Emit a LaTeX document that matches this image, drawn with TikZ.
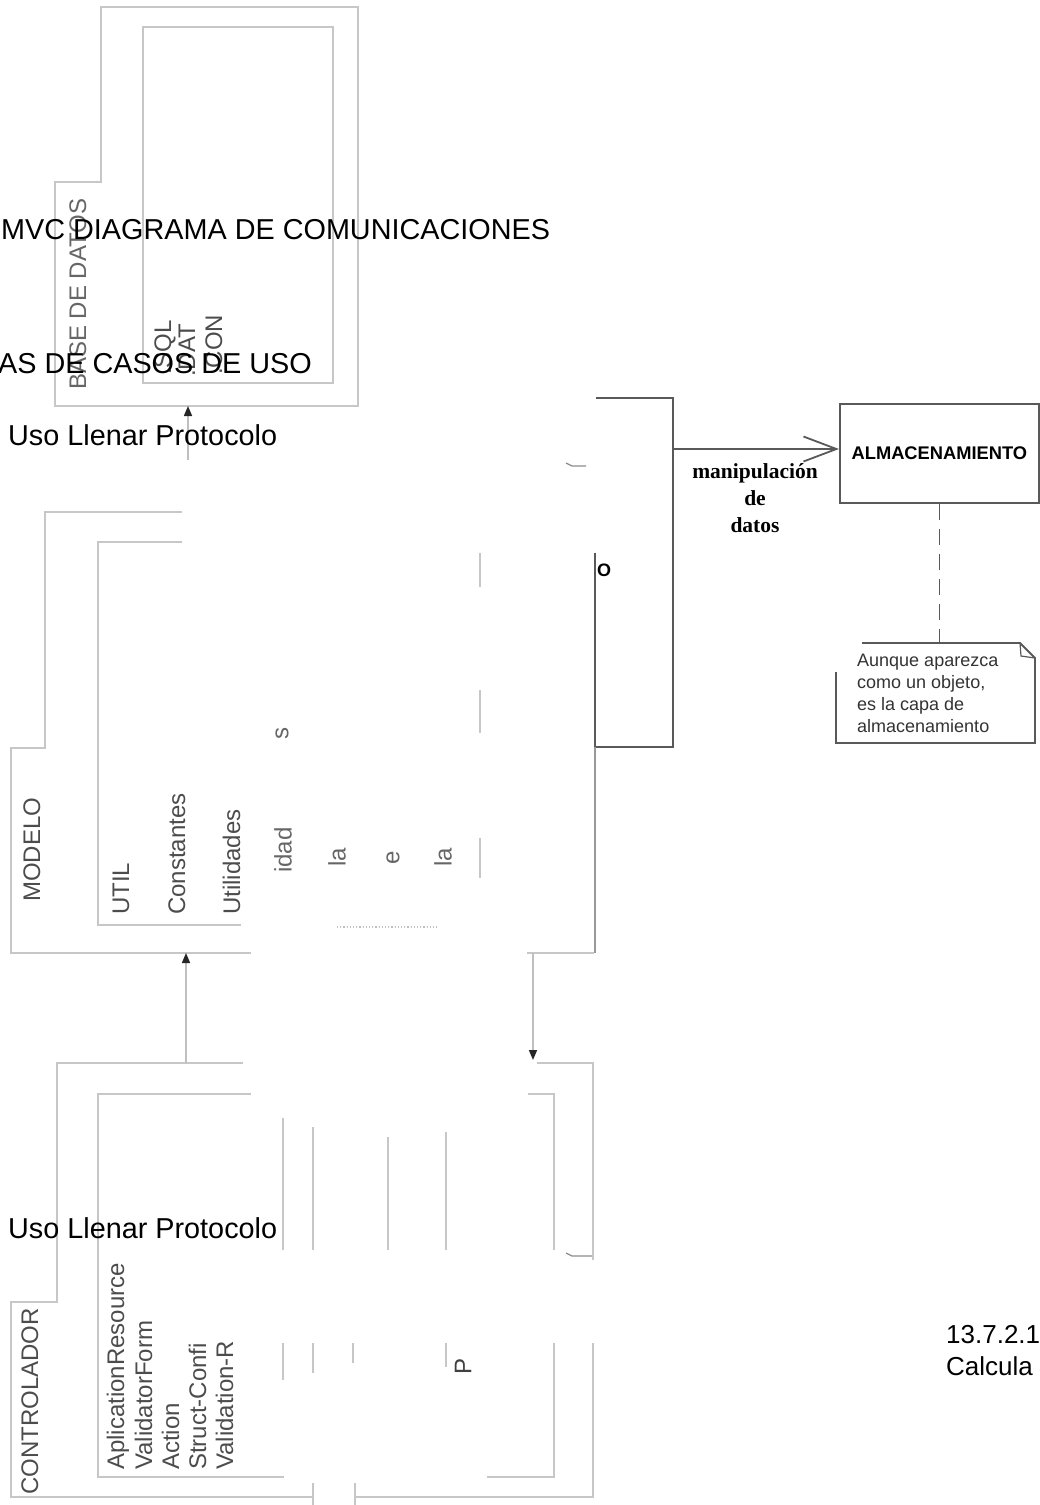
\documentclass[tikz,border=0pt]{standalone}
\usepackage{fontspec}
\setmainfont{Liberation Sans}
\newfontfamily\lblserif{Liberation Serif}
\usetikzlibrary{arrows.meta}

\begin{document}
\begin{tikzpicture}[x=1pt, y=-1pt,
    pkg/.style={draw=black!22, line width=1.6pt},
    obj/.style={draw=black!65, line width=1.8pt},
    pkgtxt/.style={rotate=90, anchor=base west, inner sep=0pt, text=black!70, font=\fontsize{24}{24}\selectfont},
    frag/.style={rotate=90, inner sep=0pt, text=black!60, font=\fontsize{24}{24}\selectfont},
    bigtxt/.style={inner sep=0pt, font=\fontsize{28.8}{30}\selectfont},
    dep/.style={draw=black!25, line width=1.5pt, -{Triangle[length=10pt, width=8pt, color=black!85]}}]
  \useasboundingbox (0,0) rectangle (1040,1505);
  \clip (0,0) rectangle (1040,1505);

  % BASE DE DATOS package
  \draw[pkg] (55,182) -- (101,182) -- (101,7) -- (358,7) -- (358,406) -- (55,406) -- cycle;
  \draw[pkg] (143,27) rectangle (333,383);
  \node[pkgtxt, text=black!60] (bdtitle) at (86,390) {BASE DE DATOS};
  \node[pkgtxt] (sql) at (171,375) {.SQL};
  \node[pkgtxt] (dat) at (195,377) {.DAT};
  \node[pkgtxt] (con) at (222,375) {.CON};

  % MODELO package, partly hidden
  \draw[pkg] (182,512) -- (45,512) -- (45,748) -- (11,748) -- (11,953) -- (251,953);
  \draw[pkg] (182,542) -- (98,542) -- (98,925) -- (241,925);
  \draw[pkg] (527,953) -- (594,953);
  \draw[draw=black!40, line width=1.5pt] (595,747) -- (595,953);
  \foreach \a/\b in {553/587, 690/733, 838/878} \draw[pkg] (480,\a) -- (480,\b);
  \draw[black!25, dotted, line width=1.2pt] (337,927) -- (437,927);
  \node[pkgtxt] (modtitle) at (40,902) {MODELO};
  \node[pkgtxt] (util) at (129,915) {UTIL};
  \node[pkgtxt] (const) at (185,915) {Constantes};
  \node[pkgtxt] (utilid) at (240,915) {Utilidades};
  \node[frag] (fs) at (282,733) {s};
  \node[frag] (fidad) at (283,850) {idad};
  \node[frag] (fla) at (337,857) {la};
  \node[frag] (fe) at (393,858) {e};
  \node[frag] (flb) at (443,857) {la};

  % object box on the right of the packages
  \draw[obj] (596,398) -- (673,398) -- (673,747) -- (596,747);
  \draw[obj] (595,553) -- (595,747);
  \node[inner sep=0pt, anchor=west, font=\bfseries\fontsize{18}{18}\selectfont] (fo) at (597,570) {O};
  \draw[black!45, line width=1.2pt] (566,463) -- (572,466) -- (586,466);
  \draw[black!45, line width=1.2pt] (566,1253) -- (572,1256) -- (594,1256);

  % CONTROLADOR package, partly hidden
  \draw[pkg] (243,1063) -- (57,1063) -- (57,1302) -- (11,1302) -- (11,1497) -- (313,1497);
  \draw[pkg] (355,1497) -- (593,1497) -- (593,1343);
  \draw[pkg] (593,1260) -- (593,1063) -- (537,1063);
  \draw[pkg] (251,1094) -- (98,1094) -- (98,1477) -- (284,1477);
  \draw[pkg] (487,1477) -- (554,1477) -- (554,1343);
  \draw[pkg] (554,1250) -- (554,1094) -- (528,1094);
  \foreach \x/\a in {283/1118, 313/1127, 388/1137, 446/1132} \draw[pkg] (\x,\a) -- (\x,1250);
  \foreach \x/\b in {283/1380, 313/1373, 353/1363, 446/1367} \draw[pkg] (\x,1343) -- (\x,\b);
  \draw[pkg] (313,1483) -- (313,1505);
  \draw[pkg] (355,1483) -- (355,1505);
  \node[pkgtxt] (ctrltitle) at (38,1495) {CONTROLADOR};
  \node[pkgtxt] (aplic) at (124,1470) {AplicationResource};
  \node[pkgtxt] (valform) at (152,1470) {ValidatorForm};
  \node[pkgtxt] (action) at (179,1470) {Action};
  \node[pkgtxt] (struct) at (206,1470) {Struct-Confi};
  \node[pkgtxt] (valid) at (233,1470) {Validation-R};
  \node[frag, text=black!75] (fp) at (463,1366) {P};

  % dependencies between packages
  \coordinate (bdbot) at (188,406);
  \coordinate (modtop) at (188,460);
  \draw[dep] (modtop) -- (bdbot);
  \coordinate (modbot) at (186,953);
  \coordinate (ctrltop) at (186,1063);
  \draw[dep] (ctrltop) -- (modbot);
  \coordinate (modbot2) at (533,953);
  \coordinate (ctrltop2) at (533,1060);
  \draw[dep] (modbot2) -- (ctrltop2);

  % storage object and note
  \node[obj, minimum width=199pt, minimum height=99pt, anchor=north west,
        font=\bfseries\fontsize{18.3}{18}\selectfont] (almac) at (839,403) {ALMACENAMIENTO};
  \coordinate (boxE) at (673,449);
  \draw[obj, -{Straight Barb[length=33pt, width=25pt, line width=1.8pt]}] (boxE) -- (boxE -| almac.west);
  \node[align=center, inner sep=0pt, font=\lblserif\bfseries\fontsize{21.5}{27}\selectfont] (lbl) at (755,498)
    {manipulación\\de\\datos};
  \coordinate (notatop) at (937,643);
  \draw[obj, dash pattern=on 16pt off 9pt] (almac.south) -- (almac.south |- notatop);
  \draw[obj] (862,643) -- (1020,643) -- (1035,658) -- (1035,743) -- (836,743) -- (836,672);
  \draw[obj, line width=1.2pt] (1020,643) -- (1021,656) -- (1035,658);
  \node[anchor=north west, align=left, inner sep=0pt, text=black!80, font=\fontsize{18}{22}\selectfont] (nota) at (857,654)
    {Aunque aparezca\\como un objeto,\\es la capa de\\almacenamiento};

  % text lying over the diagram
  \node[bigtxt, anchor=base west] (title) at (1,239) {MVC DIAGRAMA DE COMUNICACIONES};
  \node[bigtxt, anchor=base east] (casos) at (312,373) {AS DE CASOS DE USO};
  \node[bigtxt, anchor=base west] (uso1) at (8,445) {Uso Llenar Protocolo};
  \node[bigtxt, anchor=base west] (uso2) at (8,1238) {Uso Llenar Protocolo};
  \node[inner sep=0pt, anchor=base west, font=\fontsize{26}{26}\selectfont] (num) at (946,1343) {13.7.2.1};
  \node[inner sep=0pt, anchor=base west, font=\fontsize{26}{26}\selectfont] (calc) at (946,1375) {Calcula};
\end{tikzpicture}
\end{document}
